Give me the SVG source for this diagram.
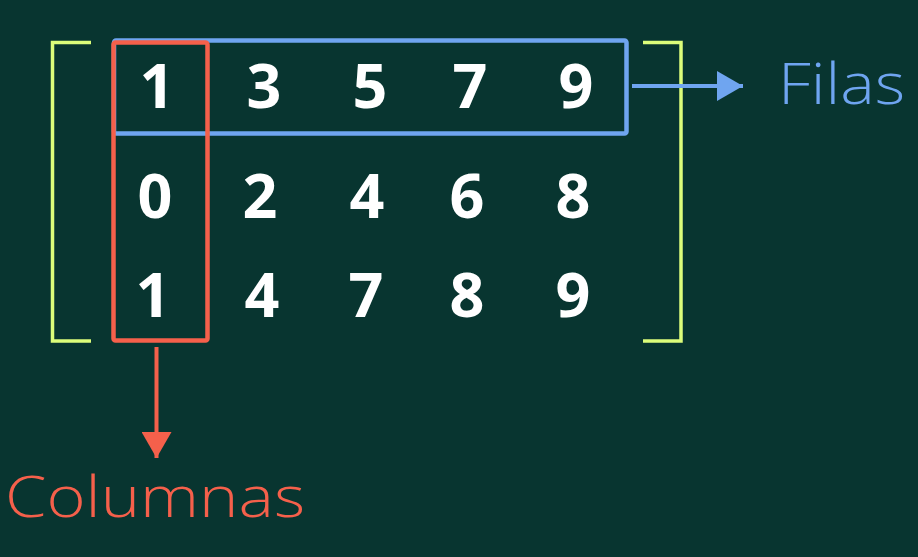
<svg xmlns="http://www.w3.org/2000/svg" width="918" height="557" viewBox="0 0 918 557">
  <style>
    .num { font-family: "Open Sans", "Liberation Sans", sans-serif; font-weight: 700; font-size: 61px; fill: #ffffff; text-anchor: middle; }
    .lbl { font-family: "Open Sans", "Liberation Sans", sans-serif; font-weight: 300; font-size: 57px; }
    .brk { fill: none; stroke: #dcfd7a; stroke-width: 3.5; }
    .box { fill: none; stroke-width: 4.5; stroke-linejoin: round; }
  </style>
  <defs>
    <marker id="ahBlue" markerUnits="userSpaceOnUse" markerWidth="30" markerHeight="30" refX="26" refY="15" orient="auto">
      <path d="M0,0 L26,15 L0,30 Z" fill="#6fa5f0"/>
    </marker>
    <marker id="ahRed" markerUnits="userSpaceOnUse" markerWidth="30" markerHeight="30" refX="26" refY="15" orient="auto">
      <path d="M0,0 L26,15 L0,30 Z" fill="#f5604b"/>
    </marker>
  </defs>
  <rect x="0" y="0" width="918" height="557" fill="#083530"/>

  <g id="brackets">
    <path class="brk" d="M91,42.5 H52.5 V341 H91"/>
    <path class="brk" d="M643,42.5 H681 V341 H643"/>
  </g>

  <g id="matrix">
    <text class="num" x="157" y="108">1</text>
    <text class="num" x="264" y="108">3</text>
    <text class="num" x="370" y="108">5</text>
    <text class="num" x="470" y="108">7</text>
    <text class="num" x="576" y="108">9</text>
    <text class="num" x="155" y="218">0</text>
    <text class="num" x="260" y="218">2</text>
    <text class="num" x="367" y="218">4</text>
    <text class="num" x="467" y="218">6</text>
    <text class="num" x="573" y="218">8</text>
    <text class="num" x="153" y="317">1</text>
    <text class="num" x="262" y="317">4</text>
    <text class="num" x="366" y="317">7</text>
    <text class="num" x="467" y="317">8</text>
    <text class="num" x="573" y="317">9</text>
  </g>

  <g id="filas-box">
    <rect class="box" x="114" y="40.5" width="512.5" height="93" rx="2" stroke="#6fa5f0"/>
  </g>

  <g id="columnas-box">
    <rect class="box" x="113.5" y="42.5" width="94" height="298" rx="2" stroke="#f5604b"/>
  </g>

  <g id="connectors">
    <line x1="632" y1="86" x2="743" y2="86" stroke="#6fa5f0" stroke-width="4" marker-end="url(#ahBlue)"/>
    <line x1="156.5" y1="347" x2="156.5" y2="458" stroke="#f5604b" stroke-width="4" marker-end="url(#ahRed)"/>
  </g>

  <g id="label-filas">
    <text class="lbl" x="778" y="104" fill="#6fa5f0" textLength="127" lengthAdjust="spacingAndGlyphs">Filas</text>
  </g>
  <g id="label-columnas">
    <text class="lbl" x="5" y="517" fill="#f5604b" textLength="300" lengthAdjust="spacingAndGlyphs">Columnas</text>
  </g>
</svg>
